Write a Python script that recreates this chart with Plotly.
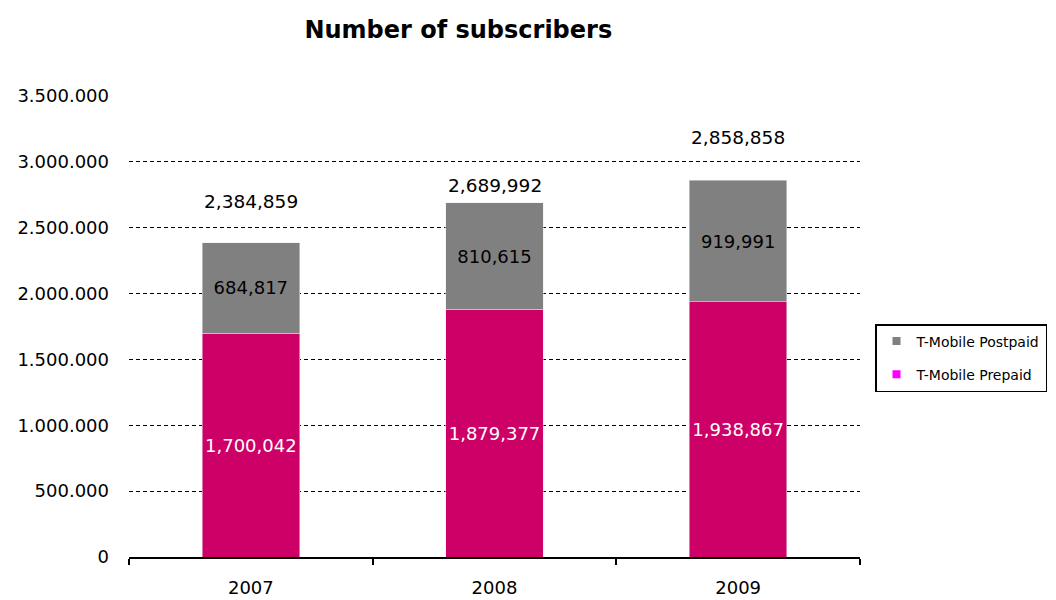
import plotly.graph_objects as go

years = ["2007", "2008", "2009"]
prepaid = [1700042, 1879377, 1938867]
postpaid = [684817, 810615, 919991]
totals = [2384859, 2689992, 2858858]
total_label_shift = [41, 17, 43]

ytick_vals = [0, 500000, 1000000, 1500000, 2000000, 2500000, 3000000, 3500000]
ytick_text = ["0", "500.000", "1.000.000", "1.500.000", "2.000.000", "2.500.000", "3.000.000", "3.500.000"]

FONT = "DejaVu Sans, Arial, sans-serif"
PRE_COLOR = "#CC0066"
POST_COLOR = "#808080"

fig = go.Figure()
fig.add_trace(go.Bar(x=years, y=prepaid, marker_color=PRE_COLOR, width=0.4,
                     texttemplate="%{y:,}", textposition="inside", insidetextanchor="middle",
                     textfont=dict(color="white", size=18, family=FONT), textangle=0,
                     constraintext="none", showlegend=False, hoverinfo="skip"))
fig.add_trace(go.Bar(x=years, y=postpaid, marker_color=POST_COLOR, width=0.4,
                     texttemplate="%{y:,}", textposition="inside", insidetextanchor="middle",
                     textfont=dict(color="black", size=18, family=FONT), textangle=0,
                     constraintext="none", showlegend=False, hoverinfo="skip"))
# legend entries
fig.add_trace(go.Scatter(x=[None], y=[None], mode="markers", name="T-Mobile Postpaid",
                         marker=dict(symbol="square", size=8, color=POST_COLOR),
                         legendgroup="a", legendrank=1))
fig.add_trace(go.Scatter(x=[None], y=[None], mode="markers", name="T-Mobile Prepaid",
                         marker=dict(symbol="square", size=8, color="#FF00FF"),
                         legendgroup="b", legendrank=2))

# grid helper traces on overlay axes
fig.add_trace(go.Scatter(x=[None], y=[None], yaxis="y2", showlegend=False))
fig.add_trace(go.Scatter(x=[None], y=[None], yaxis="y3", showlegend=False))

for i, (tot, sh) in enumerate(zip(totals, total_label_shift)):
    fig.add_annotation(x=i, y=tot, xref="x", yref="y", text=f"{tot:,}", showarrow=False,
                       yanchor="middle", yshift=sh,
                       font=dict(size=18.5, color="black", family=FONT))

yr_range = [0, 3500000]
fig.update_layout(
    width=1056, height=600,
    margin=dict(l=129, r=196, t=96, b=43, autoexpand=False),
    paper_bgcolor="white", plot_bgcolor="white",
    barmode="stack",
    font=dict(family=FONT, color="black", size=18),
    title=dict(text="<b>Number of subscribers</b>", x=0.434, xanchor="center",
               y=0.95, yanchor="middle", font=dict(size=24, family=FONT, color="black")),
    xaxis=dict(type="category", range=[-0.5, 2.5], showline=True, linecolor="black",
               linewidth=1.5, ticks="outside", ticklen=6, tickcolor="black", tickwidth=1.5,
               tickson="boundaries", showgrid=False, zeroline=False, ticklabelstandoff=14,
               automargin=False, tickfont=dict(size=18, family=FONT, color="black")),
    yaxis=dict(range=yr_range, tickvals=ytick_vals, ticktext=ytick_text, showgrid=False,
               zeroline=False, showline=False, ticks="", ticklabelstandoff=19, automargin=False,
               tickfont=dict(size=18, family=FONT, color="black")),
    yaxis2=dict(range=yr_range, overlaying="y", tickvals=ytick_vals[1:7], showticklabels=False,
                showgrid=True, gridcolor="black", griddash="4px,3px", gridwidth=1,
                zeroline=False, showline=False, automargin=False),
    yaxis3=dict(range=yr_range, overlaying="y", tickvals=[3500000], showticklabels=False,
                showgrid=True, gridcolor="#d0d0d0", griddash="4px,3px", gridwidth=1,
                zeroline=False, showline=False, automargin=False),
    legend=dict(xref="container", yref="container", x=875 / 1056, y=1 - 324 / 600,
                xanchor="left", yanchor="top", bordercolor="black",
                borderwidth=1.5, bgcolor="white", traceorder="grouped", tracegroupgap=12,
                font=dict(size=14, family=FONT, color="black"), itemwidth=30),
)

fig.write_html("out.html")
